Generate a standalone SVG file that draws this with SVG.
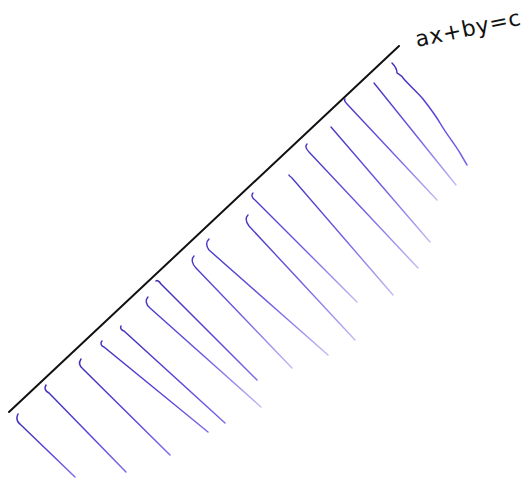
<svg xmlns="http://www.w3.org/2000/svg" width="530" height="478" viewBox="0 0 530 478">
<defs>
<linearGradient id="ink" x1="0" y1="0" x2="1" y2="1">
<stop offset="0" stop-color="#3f2fb8"/>
<stop offset="0.6" stop-color="#5a46dc"/>
<stop offset="1" stop-color="#7d6ce6"/>
</linearGradient>
<linearGradient id="fade" x1="0" y1="0" x2="1" y2="1">
<stop offset="0" stop-color="#4535c4"/>
<stop offset="0.5" stop-color="#6a58e0"/>
<stop offset="1" stop-color="#c2b9f4"/>
</linearGradient>
<style>
.bg{fill:#ffffff}
.edge{fill:none;stroke:#111111;stroke-width:2;stroke-linecap:round}
.h{fill:none;stroke:url(#ink);stroke-width:1.5;stroke-linecap:round;stroke-linejoin:round}
.f{fill:none;stroke:url(#fade);stroke-width:1.4;stroke-linecap:round;stroke-linejoin:round}
.lbl{font-family:"DejaVu Sans","Liberation Sans",sans-serif;font-size:22px;fill:#111111}
</style>
</defs>
<rect class="bg" x="0" y="0" width="530" height="478"/>
<g id="boundary">
<path class="edge" d="M9,412 L399,46"/>
</g>
<g id="label">
<text class="lbl" x="417" y="47" textLength="107" lengthAdjust="spacing" transform="rotate(-12 417 47)">ax+by=c</text>
</g>
<g id="hatching">
<path class="h" d="M18,414 C16,418 17,422 21,425 L75,477"/>
<path class="h" d="M46,385 C44,388 45,391 49,393 L126,472"/>
<path class="h" d="M81,359 C79,362 79,366 83,369 L170,455"/>
<path class="h" d="M102,341 C100,343 101,346 104,347 L208,432"/>
<path class="h" d="M121,326 C120,328 121,330 124,331 L225,423"/>
<path class="f" d="M148,297 C145,300 146,305 150,308 L261,407"/>
<path class="h" d="M156,281 C157,280 159,281 161,284 L257,380"/>
<path class="f" d="M194,256 C191,259 192,264 196,268 L292,368"/>
<path class="f" d="M209,239 C206,242 206,246 209,250 L328,355"/>
<path class="f" d="M248,215 C245,218 246,222 249,226 L355,340"/>
<path class="f" d="M253,193 C251,195 252,198 255,200 L357,302"/>
<path class="f" d="M289,175 C289,176 290,176 292,178 L393,295"/>
<path class="f" d="M307,144 C305,146 306,149 309,152 L418,268"/>
<path class="f" d="M331,127 L430,242"/>
<path class="f" d="M345,99 C344,100 345,102 347,104 L437,200"/>
<path class="f" d="M374,83 L456,185"/>
<path class="h" d="M392,63 C395,66 397,70 397,73 C400,75 402,76 403,78 C410,86 418,93 423,99 C430,108 436,116 440,123 C447,135 454,143 460,153 L467,165"/>
</g>
</svg>
